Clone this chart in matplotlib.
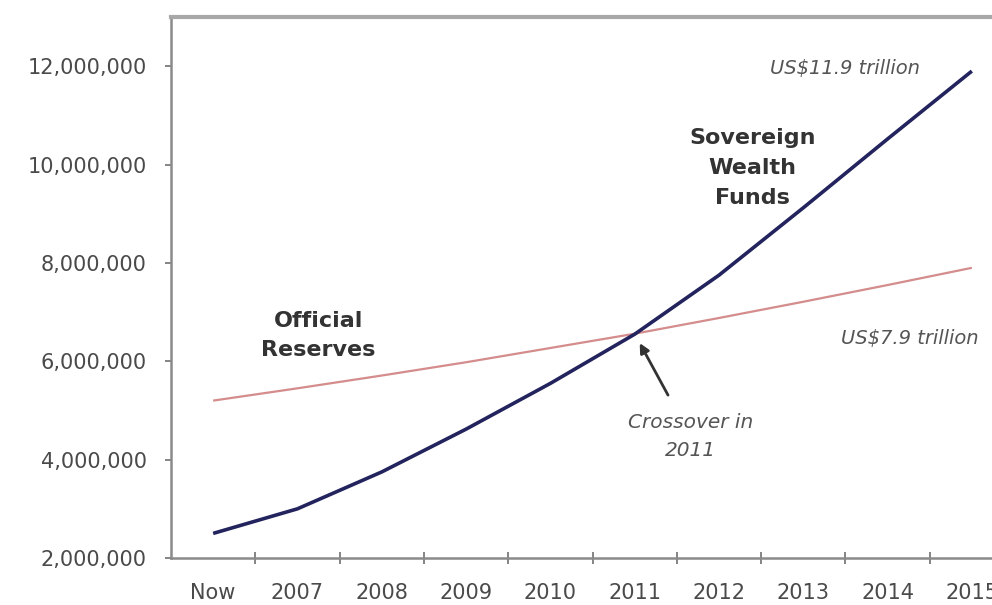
import matplotlib
matplotlib.use("Agg")
import matplotlib.pyplot as plt
from matplotlib.ticker import FuncFormatter, FixedLocator

plt.rcParams['font.family'] = ['DejaVu Sans']

# ---- data ----
categories = ["Now", "2007", "2008", "2009", "2010", "2011", "2012", "2013", "2014", "2015"]
swf_values = [2.50e6, 3.00e6, 3.75e6, 4.62e6, 5.55e6, 6.55e6, 7.75e6, 9.12e6, 10.52e6, 11.90e6]
reserves_values = [5.20e6, 5.45e6, 5.71e6, 5.98e6, 6.27e6, 6.56e6, 6.88e6, 7.21e6, 7.55e6, 7.90e6]
y_ticks = [2e6, 4e6, 6e6, 8e6, 10e6, 12e6]

W, H = 992, 605
fig = plt.figure(figsize=(W / 100, H / 100), dpi=100)
fig.patch.set_facecolor("white")

left_px, bottom_px, top_px = 171, 558, 17
unit_px = 84.3
ax = fig.add_axes([left_px / W, 1 - bottom_px / H,
                   10 * unit_px / W, (bottom_px - top_px) / H])

x = list(range(len(categories)))
ax.plot(x, reserves_values, color="#d48c8c", lw=1.6, solid_capstyle="butt", zorder=3)
ax.plot(x, swf_values, color="#23235e", lw=2.6, solid_capstyle="butt", zorder=4)

ax.set_xlim(-0.5, len(categories) - 0.5)
ax.set_ylim(2e6, 13e6)

# spines
for s in ["left", "bottom"]:
    ax.spines[s].set_color("#8a8a8a")
    ax.spines[s].set_linewidth(1.8)
ax.spines["top"].set_color("#a8a8a8")
ax.spines["top"].set_linewidth(3)
ax.spines["right"].set_visible(False)

tick_color = "#4a4a4a"
ax.yaxis.set_major_locator(FixedLocator(y_ticks))
ax.yaxis.set_major_formatter(FuncFormatter(lambda v, p: f"{int(round(v)):,}"))
ax.tick_params(axis="y", direction="out", length=4, width=1.2, color="#707070",
               pad=13.5, labelsize=15, labelcolor=tick_color)

ax.set_xticks(x)
ax.set_xticklabels(categories)
ax.set_xticks([i + 0.5 for i in range(len(categories) - 1)], minor=True)
ax.tick_params(axis="x", which="major", length=0, pad=18, labelsize=15, labelcolor=tick_color)
ax.tick_params(axis="x", which="minor", direction="inout", length=8, width=1.2, color="#707070")

# annotations
ax.text(1.25, 6.52e6, "Official\nReserves", ha="center", va="center",
        fontsize=16, fontweight="bold", color="#333333", linespacing=1.6)
ax.text(6.4, 9.93e6, "Sovereign\nWealth\nFunds", ha="center", va="center",
        fontsize=16, fontweight="bold", color="#333333", linespacing=1.6)
ax.text(7.5, 11.95e6, "US$11.9 trillion", ha="center", va="center",
        fontsize=14, style="italic", color="#555555")
ax.text(8.26, 6.47e6, "US$7.9 trillion", ha="center", va="center",
        fontsize=14, style="italic", color="#555555")
ax.annotate("Crossover in\n2011", xy=(5.06, 6.37e6), xytext=(5.66, 4.48e6),
            ha="center", va="center", fontsize=14.5, style="italic", color="#555555",
            linespacing=1.6,
            arrowprops=dict(arrowstyle="-|>", color="#333333", lw=2,
                            mutation_scale=14, shrinkA=12, shrinkB=0))

fig.savefig("out.png", dpi=100, facecolor="white")
